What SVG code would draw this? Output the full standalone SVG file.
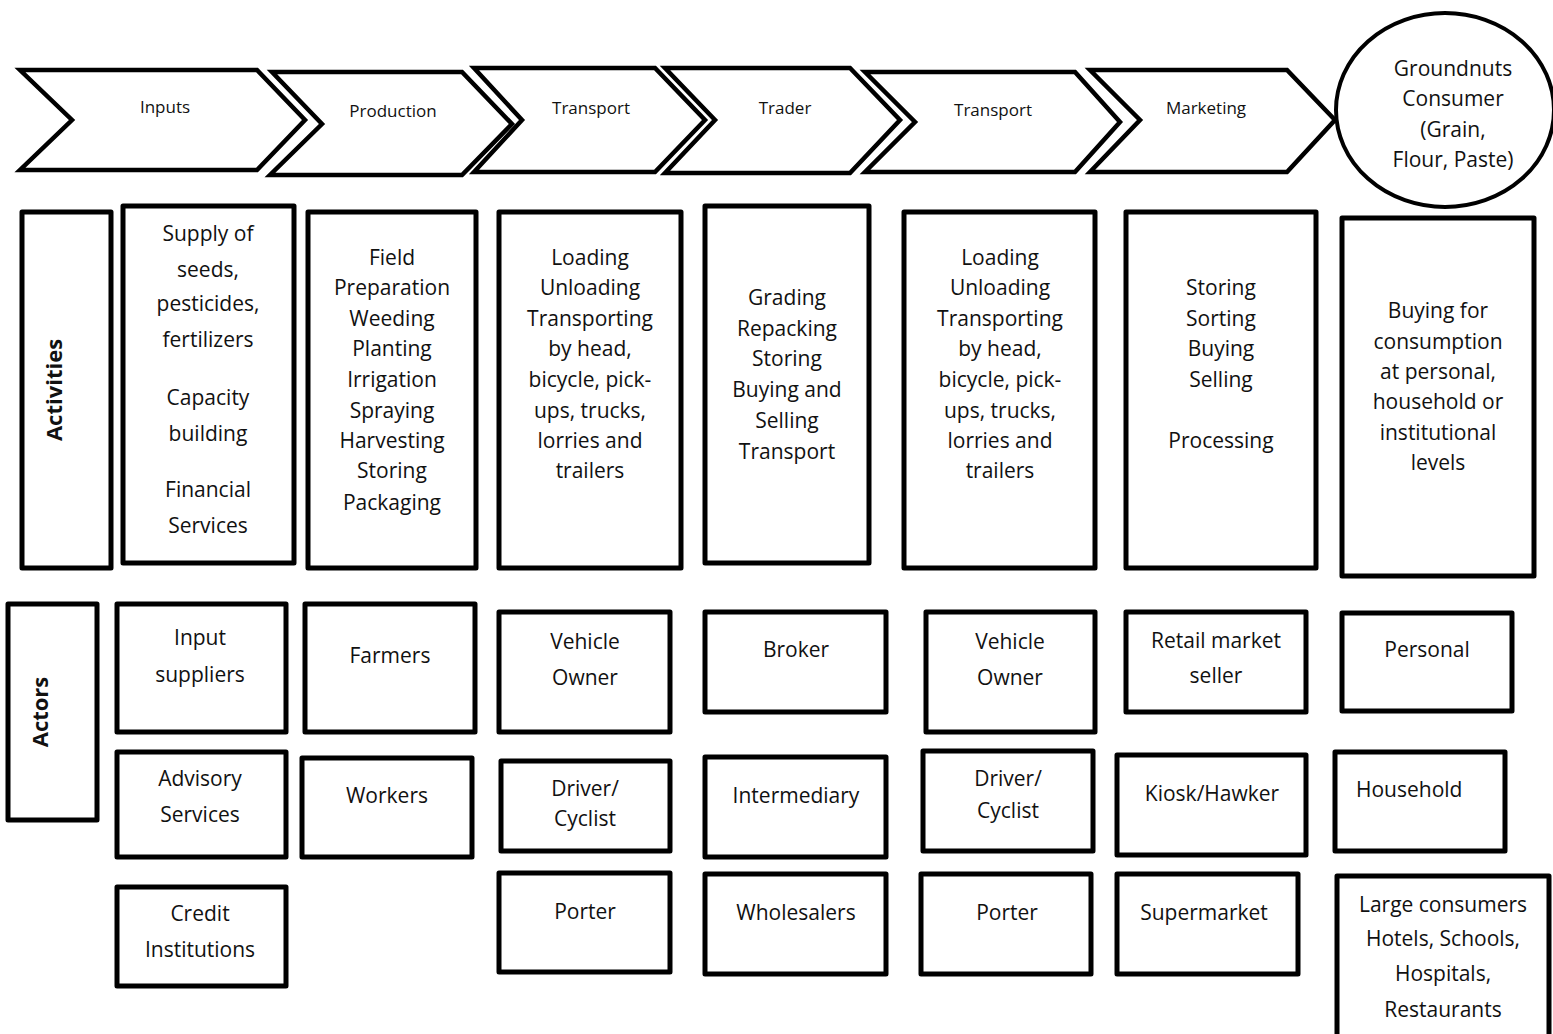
<svg xmlns="http://www.w3.org/2000/svg" width="1553" height="1034" viewBox="0 0 1553 1034">
<style>
.chev{fill:#fff;stroke:#000;stroke-width:4.5;stroke-linejoin:miter}
.box{fill:#fff;stroke:#000;stroke-width:5;stroke-linejoin:round}
.t{font-family:"Open Sans","Liberation Sans",Arial,sans-serif;font-size:21px;fill:#111;text-anchor:middle}
.s{font-family:"Open Sans","Liberation Sans",Arial,sans-serif;font-size:17px;fill:#111;text-anchor:middle}
.b{font-family:"Open Sans","Liberation Sans",Arial,sans-serif;font-size:22px;font-weight:bold;fill:#111;text-anchor:middle}
</style>
<rect width="1553" height="1034" fill="#fff"/>
<g id="stages">
<g id="chev-inputs"><polygon class="chev" points="20,70 257,70 305,120 257,170 20,170 72,120"/><text class="s" x="165" y="113">Inputs</text></g>
<g id="chev-production"><polygon class="chev" points="272,72 462,72 512,124 462,175 270,175 322,124"/><text class="s" x="393" y="117">Production</text></g>
<g id="chev-transport1"><polygon class="chev" points="474,68 655,68 705,120 655,172 474,172 522,120"/><text class="s" x="591" y="114">Transport</text></g>
<g id="chev-trader"><polygon class="chev" points="665,68 850,68 900,120 850,173 665,173 715,120"/><text class="s" x="785" y="114">Trader</text></g>
<g id="chev-transport2"><polygon class="chev" points="865,72 1075,72 1120,122 1075,172 865,172 915,122"/><text class="s" x="993" y="116">Transport</text></g>
<g id="chev-marketing"><polygon class="chev" points="1090,70 1287,70 1335,120 1287,172 1090,172 1140,120"/><text class="s" x="1206" y="114">Marketing</text></g>
<g id="consumer-ellipse"><ellipse cx="1445" cy="110" rx="109" ry="97" fill="#fff" stroke="#000" stroke-width="4"/>
<text class="t" x="1453" y="76">Groundnuts</text><text class="t" x="1453" y="106">Consumer</text><text class="t" x="1453" y="137">(Grain,</text><text class="t" x="1453" y="167">Flour, Paste)</text></g>
</g>
<g id="activities">
<g id="act-label"><rect class="box" x="22" y="212" width="89" height="356"/><text class="b" transform="translate(62,390) rotate(-90)">Activities</text></g>
<g id="act-inputs"><rect class="box" x="123" y="206" width="171" height="357"/>
<text class="t" x="208" y="241">Supply of</text><text class="t" x="208" y="277">seeds,</text><text class="t" x="208" y="311">pesticides,</text><text class="t" x="208" y="347">fertilizers</text><text class="t" x="208" y="405">Capacity</text><text class="t" x="208" y="441">building</text><text class="t" x="208" y="497">Financial</text><text class="t" x="208" y="533">Services</text></g>
<g id="act-production"><rect class="box" x="308" y="212" width="168" height="356"/>
<text class="t" x="392" y="265">Field</text><text class="t" x="392" y="295">Preparation</text><text class="t" x="392" y="326">Weeding</text><text class="t" x="392" y="356">Planting</text><text class="t" x="392" y="387">Irrigation</text><text class="t" x="392" y="418">Spraying</text><text class="t" x="392" y="448">Harvesting</text><text class="t" x="392" y="478">Storing</text><text class="t" x="392" y="510">Packaging</text></g>
<g id="act-transport1"><rect class="box" x="499" y="212" width="182" height="356"/>
<text class="t" x="590" y="265">Loading</text><text class="t" x="590" y="295">Unloading</text><text class="t" x="590" y="326">Transporting</text><text class="t" x="590" y="356">by head,</text><text class="t" x="590" y="387">bicycle, pick-</text><text class="t" x="590" y="418">ups, trucks,</text><text class="t" x="590" y="448">lorries and</text><text class="t" x="590" y="478">trailers</text></g>
<g id="act-trader"><rect class="box" x="705" y="206" width="164" height="357"/>
<text class="t" x="787" y="305">Grading</text><text class="t" x="787" y="336">Repacking</text><text class="t" x="787" y="366">Storing</text><text class="t" x="787" y="397">Buying and</text><text class="t" x="787" y="428">Selling</text><text class="t" x="787" y="459">Transport</text></g>
<g id="act-transport2"><rect class="box" x="904" y="212" width="191" height="356"/>
<text class="t" x="1000" y="265">Loading</text><text class="t" x="1000" y="295">Unloading</text><text class="t" x="1000" y="326">Transporting</text><text class="t" x="1000" y="356">by head,</text><text class="t" x="1000" y="387">bicycle, pick-</text><text class="t" x="1000" y="418">ups, trucks,</text><text class="t" x="1000" y="448">lorries and</text><text class="t" x="1000" y="478">trailers</text></g>
<g id="act-marketing"><rect class="box" x="1126" y="212" width="190" height="356"/>
<text class="t" x="1221" y="295">Storing</text><text class="t" x="1221" y="326">Sorting</text><text class="t" x="1221" y="356">Buying</text><text class="t" x="1221" y="387">Selling</text><text class="t" x="1221" y="448">Processing</text></g>
<g id="act-consumer"><rect class="box" x="1342" y="218" width="192" height="358"/>
<text class="t" x="1438" y="318">Buying for</text><text class="t" x="1438" y="349">consumption</text><text class="t" x="1438" y="379">at personal,</text><text class="t" x="1438" y="409">household or</text><text class="t" x="1438" y="440">institutional</text><text class="t" x="1438" y="470">levels</text></g>
</g>
<g id="actors">
<g id="actors-label"><rect class="box" x="8" y="604" width="89" height="216"/><text class="b" transform="translate(48,712) rotate(-90)">Actors</text></g>
<g id="input-suppliers"><rect class="box" x="117" y="604" width="169" height="128"/><text class="t" x="200" y="645">Input</text><text class="t" x="200" y="682">suppliers</text></g>
<g id="advisory"><rect class="box" x="117" y="752" width="169" height="105"/><text class="t" x="200" y="786">Advisory</text><text class="t" x="200" y="822">Services</text></g>
<g id="credit"><rect class="box" x="117" y="887" width="169" height="99"/><text class="t" x="200" y="921">Credit</text><text class="t" x="200" y="957">Institutions</text></g>
<g id="farmers"><rect class="box" x="305" y="604" width="170" height="128"/><text class="t" x="390" y="663">Farmers</text></g>
<g id="workers"><rect class="box" x="302" y="758" width="170" height="99"/><text class="t" x="387" y="803">Workers</text></g>
<g id="vehicle-owner1"><rect class="box" x="499" y="612" width="171" height="120"/><text class="t" x="585" y="649">Vehicle</text><text class="t" x="585" y="685">Owner</text></g>
<g id="driver1"><rect class="box" x="501" y="761" width="169" height="90"/><text class="t" x="585" y="796">Driver/</text><text class="t" x="585" y="826">Cyclist</text></g>
<g id="porter1"><rect class="box" x="499" y="873" width="171" height="99"/><text class="t" x="585" y="919">Porter</text></g>
<g id="broker"><rect class="box" x="705" y="612" width="181" height="100"/><text class="t" x="796" y="657">Broker</text></g>
<g id="intermediary"><rect class="box" x="705" y="757" width="181" height="100"/><text class="t" x="796" y="803">Intermediary</text></g>
<g id="wholesalers"><rect class="box" x="705" y="874" width="181" height="100"/><text class="t" x="796" y="920">Wholesalers</text></g>
<g id="vehicle-owner2"><rect class="box" x="926" y="612" width="169" height="120"/><text class="t" x="1010" y="649">Vehicle</text><text class="t" x="1010" y="685">Owner</text></g>
<g id="driver2"><rect class="box" x="923" y="751" width="170" height="100"/><text class="t" x="1008" y="786">Driver/</text><text class="t" x="1008" y="818">Cyclist</text></g>
<g id="porter2"><rect class="box" x="921" y="874" width="170" height="100"/><text class="t" x="1007" y="920">Porter</text></g>
<g id="retail"><rect class="box" x="1126" y="612" width="180" height="100"/><text class="t" x="1216" y="648">Retail market</text><text class="t" x="1216" y="683">seller</text></g>
<g id="kiosk"><rect class="box" x="1117" y="755" width="189" height="100"/><text class="t" x="1212" y="801">Kiosk/Hawker</text></g>
<g id="supermarket"><rect class="box" x="1117" y="874" width="181" height="100"/><text class="t" x="1204" y="920">Supermarket</text></g>
<g id="personal"><rect class="box" x="1342" y="613" width="170" height="98"/><text class="t" x="1427" y="657">Personal</text></g>
<g id="household"><rect class="box" x="1335" y="752" width="170" height="99"/><text class="t" x="1356" y="797" style="text-anchor:start">Household</text></g>
<g id="large-consumers"><rect class="box" x="1337" y="876" width="212" height="170"/><text class="t" x="1443" y="912">Large consumers</text><text class="t" x="1443" y="946">Hotels, Schools,</text><text class="t" x="1443" y="981">Hospitals,</text><text class="t" x="1443" y="1017">Restaurants</text></g>
</g>
<g id="connectors"></g>
</svg>
